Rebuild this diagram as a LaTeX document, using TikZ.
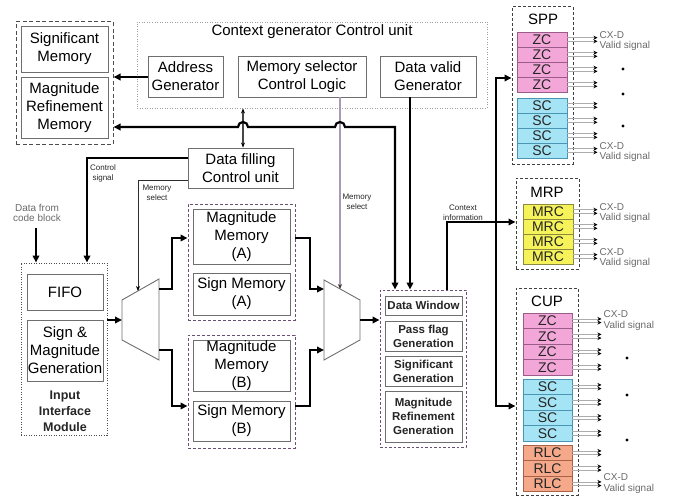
\documentclass[tikz,border=0pt]{standalone}
\usepackage{fontspec}
\setmainfont{Liberation Sans}
\usetikzlibrary{arrows.meta,calc}

\definecolor{boxline}{HTML}{6E6E6E}
\definecolor{grpline}{HTML}{6A5070}
\definecolor{zcfill}{HTML}{F2A7D8}
\definecolor{zcline}{HTML}{9A5C88}
\definecolor{scfill}{HTML}{A5E4F5}
\definecolor{scline}{HTML}{4A94B4}
\definecolor{mrcfill}{HTML}{F6F25A}
\definecolor{mrcline}{HTML}{8C8A3C}
\definecolor{rlcfill}{HTML}{F6A98A}
\definecolor{rlcline}{HTML}{A86248}
\definecolor{selline}{HTML}{A89AB4}
\definecolor{lbl}{HTML}{6A6A6A}

\newcommand\fbig{\fontsize{15}{18}\selectfont}
\newcommand\fmid{\fontsize{11.5}{14}\selectfont\bfseries}
\newcommand\fin{\fontsize{12.5}{16}\selectfont\bfseries}
\newcommand\ftiny{\fontsize{8}{10}\selectfont}
\newcommand\fcx{\fontsize{10}{10.5}\selectfont}
\newcommand\frow{\fontsize{14}{14}\selectfont}

% a rectangular node given by its corners: name, style, x1, y1, x2, y2, text
\newcommand\blk[7]{%
  \node[#2, minimum width={(#5)-(#3)}, minimum height={(#6)-(#4)}]
    (#1) at ({((#3)+(#5))/2},{((#4)+(#6))/2}) {#7};}

\begin{document}
\begin{tikzpicture}[x=1pt,y=-1pt,
  >={Triangle[length=7pt,width=6.5pt]},
  box/.style={draw=boxline, line width=0.9pt, inner sep=0pt, align=center, fill=white, font=\fbig},
  sbox/.style={box, font=\fmid, text=black!85},
  outerdash/.style={draw=gray!60!black, line width=1pt, dash pattern=on 4pt off 2.5pt, inner sep=0pt},
  dotbox/.style={draw=gray!75, line width=0.9pt, dash pattern=on 1pt off 1.5pt, inner sep=0pt},
  grpbox/.style={draw=grpline, line width=0.9pt, dash pattern=on 3pt off 2pt, inner sep=0pt},
  modbox/.style={draw=gray!50!black, line width=1pt, dash pattern=on 3pt off 2pt, inner sep=0pt},
  rowbox/.style={line width=0.9pt, inner sep=0pt, font=\frow, text=black!85},
  zc/.style={rowbox, draw=zcline, fill=zcfill},
  sc/.style={rowbox, draw=scline, fill=scfill},
  mrc/.style={rowbox, draw=mrcline, fill=mrcfill},
  rlc/.style={rowbox, draw=rlcline, fill=rlcfill},
  bus/.style={line width=2.2pt},
  thin/.style={line width=0.9pt, draw=gray!35!black, -{Stealth[length=5pt,width=4pt,black]}},
  outl/.style={draw=gray!65, line width=0.8pt, -{Stealth[length=4pt,width=4pt,black]}},
  tinylbl/.style={font=\ftiny, text=gray!30!black, align=center, inner sep=0pt},
  cxd/.style={font=\fcx, text=lbl, align=left, inner sep=0pt, anchor=west},
  mux/.style={draw=boxline, line width=0.9pt, fill=white}
]
\useasboundingbox (0,0) rectangle (674,500);

% ---------- memories on the upper left ----------
\blk{lmem}{outerdash}{16}{22}{113}{144}{}
\blk{sigmem}{box}{21}{26}{108}{72}{Significant\\Memory}
\blk{mrmem}{box}{21}{77}{108}{138}{Magnitude\\Refinement\\Memory}

% ---------- context generator control unit ----------
\blk{ctx}{dotbox}{137}{22}{487}{108}{}
\node[font=\fbig, inner sep=0pt] (ctxtitle) at (312,32) {Context generator Control unit};
\blk{addr}{box}{148}{56}{223}{97}{Address\\Generator}
\blk{msel}{box}{238}{56}{366}{97}{Memory selector\\Control Logic}
\blk{dvg}{box}{380}{56}{476}{97}{Data valid\\Generator}

% ---------- data filling control ----------
\blk{dfc}{box}{188}{148}{293}{188}{Data filling\\Control unit}

% ---------- input interface module ----------
\blk{inp}{dotbox, draw=gray!60!black}{21}{263}{107}{435}{}
\blk{fifo}{box}{27}{274}{103}{310}{FIFO}
\blk{smg}{box}{27}{320}{103}{381}{Sign \&\\Magnitude\\Generation}
\node[font=\fin, text=black!85, align=center, inner sep=0pt] (inptxt) at (65,411) {Input\\Interface\\Module};
\node[font=\fcx, text=lbl, align=center, inner sep=0pt] (dfcb) at (37,213) {Data from\\code block};

% ---------- memory banks A and B ----------
\blk{grpA}{grpbox}{188}{204}{295}{320}{}
\blk{magA}{box}{193}{209}{290}{264}{Magnitude\\Memory\\(A)}
\blk{sgnA}{box}{193}{273}{290}{315}{Sign Memory\\(A)}
\blk{grpB}{grpbox}{188}{335}{295}{448}{}
\blk{magB}{box}{193}{340}{290}{391}{Magnitude\\Memory\\(B)}
\blk{sgnB}{box}{193}{401}{290}{441}{Sign Memory\\(B)}

% ---------- data window group ----------
\blk{dwg}{grpbox, dash pattern=on 2.5pt off 2pt}{380}{290}{466}{447}{}
\blk{dw}{sbox}{385}{296}{462}{315}{Data Window}
\blk{pfg}{sbox}{385}{321}{462}{351}{Pass flag\\Generation}
\blk{sg}{sbox}{385}{356}{462}{386}{Significant\\Generation}
\blk{mrg}{sbox}{385}{391}{462}{442}{Magnitude\\Refinement\\Generation}

% ---------- multiplexers ----------
\draw[mux] (122,300) -- (159,279) -- (159,360) -- (122,340) -- cycle;
\draw[mux] (324,280) -- (360,300) -- (360,340) -- (324,360) -- cycle;
\coordinate (m1in) at (122,320);
\coordinate (m1o1) at (159,289);
\coordinate (m1o2) at (159,350);
\coordinate (m1top) at (138,291);
\coordinate (m2i1) at (324,289);
\coordinate (m2i2) at (324,350);
\coordinate (m2out) at (360,320);
\coordinate (m2top) at (340,289);

% ---------- coding passes ----------
\blk{spp}{modbox}{512}{7}{573}{164}{}
\node[font=\fbig, inner sep=0pt] (spptxt) at (543,19) {SPP};
\foreach \i in {0,...,3} {
  \blk{sppz\i}{zc}{517}{32+15*\i}{567}{47+15*\i}{ZC}
  \blk{spps\i}{sc}{517}{98+15*\i}{567}{113+15*\i}{SC}
}
\blk{mrp}{modbox}{516}{178}{579}{269}{}
\node[font=\fbig, inner sep=0pt] (mrptxt) at (547,192) {MRP};
\foreach \i in {0,...,3} {
  \blk{mrpm\i}{mrc}{523}{204+15*\i}{573}{219+15*\i}{MRC}
}
\blk{cup}{modbox}{516}{288}{578}{495}{}
\node[font=\fbig, inner sep=0pt] (cuptxt) at (547,301) {CUP};
\foreach \i in {0,...,3} {
  \blk{cupz\i}{zc}{523}{313+15.5*\i}{572}{328.5+15.5*\i}{ZC}
  \blk{cups\i}{sc}{523}{379+15.5*\i}{572}{394.5+15.5*\i}{SC}
}
\foreach \i in {0,...,2} {
  \blk{cupr\i}{rlc}{523}{445+15.5*\i}{572}{460.5+15.5*\i}{RLC}
}

% outputs of the coding cells
\foreach \n in {sppz0,sppz1,sppz2,sppz3,spps0,spps1,spps2,spps3} {
  \draw[outl] ([yshift=1.8pt]\n.east) -- ++(30,0);
  \draw[outl] ([yshift=-1.8pt]\n.east) -- ++(30,0);
}
\foreach \n in {mrpm0,mrpm1,mrpm2,mrpm3} {
  \draw[outl] ([yshift=1.8pt]\n.east) -- ++(24,0);
  \draw[outl] ([yshift=-1.8pt]\n.east) -- ++(24,0);
}
\foreach \n in {cupz0,cupz1,cupz2,cupz3,cups0,cups1,cups2,cups3,cupr0,cupr1,cupr2} {
  \draw[outl] ([yshift=1.8pt]\n.east) -- ++(29,0);
  \draw[outl] ([yshift=-1.8pt]\n.east) -- ++(29,0);
}
\node[cxd] (cx1) at ([xshift=32pt,yshift=-1.5pt]sppz0.east) {CX-D\\Valid signal};
\node[cxd] (cx2) at ([xshift=32pt,yshift=-1.5pt]spps3.east) {CX-D\\Valid signal};
\node[cxd] (cx3) at ([xshift=26pt,yshift=-1.5pt]mrpm0.east) {CX-D\\Valid signal};
\node[cxd] (cx4) at ([xshift=26pt,yshift=-1.5pt]mrpm3.east) {CX-D\\Valid signal};
\node[cxd] (cx5) at ([xshift=31pt,yshift=0pt]cupz0.east) {CX-D\\Valid signal};
\node[cxd] (cx6) at ([xshift=31pt,yshift=0pt]cupr2.east) {CX-D\\Valid signal};
\foreach \p in {(623,69),(623,94),(623,126),(627,358),(627,395),(627,440)}
  \fill \p circle[radius=1.6pt];

% ---------- helper coordinates ----------
\coordinate (busy) at (0,127);
\coordinate (xa) at (395,0);
\coordinate (xb) at (410,0);
\coordinate (xc) at (447,0);
\coordinate (xd) at (243,0);
\coordinate (xe) at (340,0);
\coordinate (xf) at (87,0);
\coordinate (xg) at (36,0);

% ---------- control connections ----------
\draw[line width=1.1pt, draw=gray!55!black, {Stealth[length=5pt,width=4pt,black]}-{Stealth[length=5pt,width=4pt,black]}]
  (xd |- ctx.south) -- (xd |- dfc.north);
\draw[line width=1.2pt, draw=selline, -{Stealth[length=5pt,width=4pt,gray!40!black]}]
  (xe |- msel.south) -- (m2top);
\draw[bus, ->] (xb |- dvg.south) -- (xb |- dwg.north);
\draw[bus, <->] (lmem.east |- busy) -- (238,127)
  arc[start angle=180, end angle=0, radius=5pt] -- (335,127)
  arc[start angle=180, end angle=0, radius=5pt] -- (395,127) -- (xa |- dwg.north);
\draw[bus, ->] (addr.west |- 0,77) -- (lmem.east |- 0,77);

\draw[bus, ->] (dfc.west |- 0,158) -- (87,158) -- (xf |- inp.north);
\draw[thin] (dfc.west |- 0,180) -- (138,180) -- (m1top);
\node[tinylbl] (csig) at (103,173) {Control\\signal};
\node[tinylbl] (msel1) at (157,193) {Memory\\select};
\node[tinylbl] (msel2) at (357,202) {Memory\\select};
\node[tinylbl] (cinfo) at (463,213) {Context\\information};

\draw[bus, ->] (xg |- 0,228) -- (xg |- inp.north);

% ---------- data path ----------
\draw[bus, ->] (inp.east |- m1in) -- (m1in);
\draw[bus, ->] (m1o1) -- (172,289) |- (grpA.west |- 0,238);
\draw[bus, ->] (m1o2) -- (172,350) |- (grpB.west |- 0,406);
\draw[bus, ->] (grpA.east |- 0,238) -- (310,238) |- (m2i1);
\draw[bus, ->] (grpB.east |- 0,406) -- (310,406) |- (m2i2);
\draw[bus, ->] (m2out) -- (dwg.west |- m2out);

% ---------- context information to the coding passes ----------
\draw[bus, ->] (xc |- dwg.north) -- (447,222) -- (mrp.west |- 0,222);
\draw[bus, <->] (spp.west |- 0,78) -- (496,78) -- (496,406) -- (cup.west |- 0,406);
\end{tikzpicture}
\end{document}
